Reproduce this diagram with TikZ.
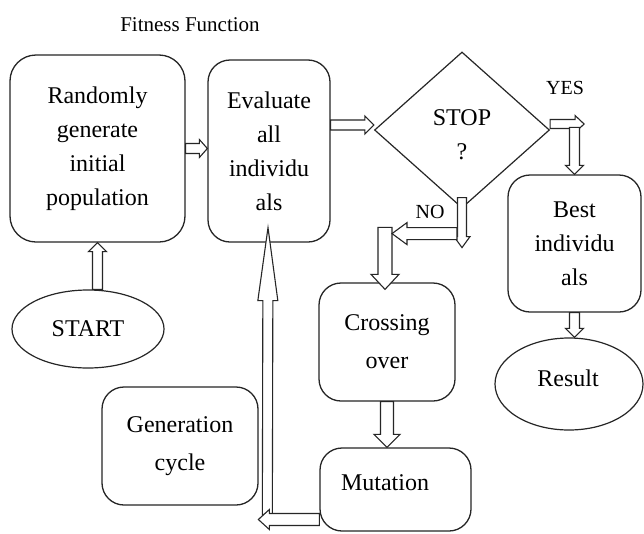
\documentclass[tikz,border=0pt]{standalone}
\usepackage{fontspec}
\setmainfont{Liberation Serif}
\usetikzlibrary{shapes.geometric,calc}

\tikzset{
  box/.style={draw=black!85, line width=1.3pt, rounded corners=22pt, inner sep=0pt},
  oval/.style={draw=black!85, line width=1.2pt, ellipse, inner sep=0pt},
  txt/.style={font=\fontsize{24}{34}\selectfont, align=center},
  txtb/.style={font=\fontsize{24}{38}\selectfont, align=center},
  lab/.style={font=\fontsize{20}{24}\selectfont},
  harrow/.style={draw=black!85, line width=1.1pt, fill=white, line join=miter},
}

% hollow block arrow: #1 from, #2 to, #3 half shaft, #4 half head, #5 head length
\newcommand\hollowarrow[5]{%
  \coordinate (hb) at ($(#2)!#5!(#1)$);
  \draw[harrow] ($(#1)!#3!90:(#2)$) -- ($(hb)!#3!90:(#2)$) -- ($(hb)!#4!90:(#2)$)
    -- (#2) -- ($(hb)!#4!-90:(#2)$) -- ($(hb)!#3!-90:(#2)$) -- ($(#1)!#3!-90:(#2)$) -- cycle;
}

\begin{document}
\begin{tikzpicture}[x=1pt,y=-1pt]
\useasboundingbox[fill=white] (0,0) rectangle (644,533);

\node[font=\fontsize{21}{24}\selectfont] (fit) at (190,25) {Fitness Function};

\node[box, rounded corners=26pt, minimum width=175pt, minimum height=187pt, txt] (b1) at (97.5,148.5)
  {Randomly\\generate\\initial\\population};
\node[box, minimum width=122pt, minimum height=182pt, txt] (b2) at (269,151)
  {Evaluate\\all\\individu\\als};

\node[draw=black!85, line width=1.2pt, diamond, inner sep=0pt, minimum width=175pt, minimum height=156pt] (dia) at (462,130) {};
\node[txt] (stopt) at (462,135) {STOP\\?};

\node[lab] (yes) at (565,88) {YES};
\node[lab] (no) at (430,212) {NO};

\node[box, minimum width=133pt, minimum height=137pt, txt] (best) at (574.5,243.5)
  {Best\\individu\\als};
\node[oval, minimum width=148pt, minimum height=92pt] (res) at (569,384) {};
\node[txt] (rest) at (568,378) {Result};

\node[box, minimum width=136pt, minimum height=118pt, txtb] (cross) at (387,342)
  {Crossing\\over};
\node[box, minimum width=151pt, minimum height=83pt] (mut) at (395.5,489.5) {};
\node[txt] (mutt) at (385,483) {Mutation};

\node[box, minimum width=156pt, minimum height=118pt, txtb] (gen) at (180,446)
  {Generation\\cycle};

\node[oval, minimum width=152pt, minimum height=78pt, txt] (start) at (88,329) {START};

% arrows
\coordinate (a1e) at (b1.east -| b2.west);
\hollowarrow{b1.east}{a1e}{5pt}{9pt}{8pt}

\coordinate (a2s) at ($(b2.east)+(0,-26)$);
\coordinate (a2e) at (a2s -| dia.west);
\hollowarrow{a2s}{a2e}{5pt}{9pt}{9pt}

\coordinate (y1s) at ($(dia.east)+(0,-6)$);
\coordinate (y1e) at ($(y1s)+(34,0)$);
\hollowarrow{y1s}{y1e}{4.5pt}{8.5pt}{9pt}
\coordinate (y2s) at ($(best.north)+(0,-47)$);
\hollowarrow{y2s}{best.north}{5pt}{9pt}{9pt}

\coordinate (r1e) at (best.south |- res.north);
\hollowarrow{best.south}{r1e}{5pt}{9pt}{9pt}

\coordinate (n1s) at ($(dia.south)+(0,-11)$);
\coordinate (n1e) at ($(dia.south)+(0,39)$);
\hollowarrow{n1s}{n1e}{4.5pt}{8pt}{11pt}
\coordinate (n3s) at ($(cross.north)+(-2,-55)$);
\coordinate (n3e) at ($(cross.north)+(-2,7)$);
\hollowarrow{n3s}{n3e}{7pt}{14pt}{15pt}
\coordinate (n2s) at ($(n1s)+(-5,36)$);
\coordinate (n2e) at ($(n2s)+(-65,0)$);
\hollowarrow{n2s}{n2e}{6pt}{11pt}{15pt}

\coordinate (c1e) at (cross.south |- mut.north);
\hollowarrow{cross.south}{c1e}{6.5pt}{13pt}{13pt}

\coordinate (m1s) at ($(mut.west)+(0,30)$);
\coordinate (u1s) at ($(m1s)+(-52,-5)$);
\coordinate (u1e) at ($(b2.south)+(-1,-15)$);
\hollowarrow{u1s}{u1e}{5pt}{10pt}{73pt}
\coordinate (m1e) at ($(m1s)+(-61,0)$);
\hollowarrow{m1s}{m1e}{6pt}{10pt}{11pt}

\coordinate (s1s) at (b1.south |- start.north);
\hollowarrow{s1s}{b1.south}{5pt}{9pt}{9pt}
\end{tikzpicture}
\end{document}
